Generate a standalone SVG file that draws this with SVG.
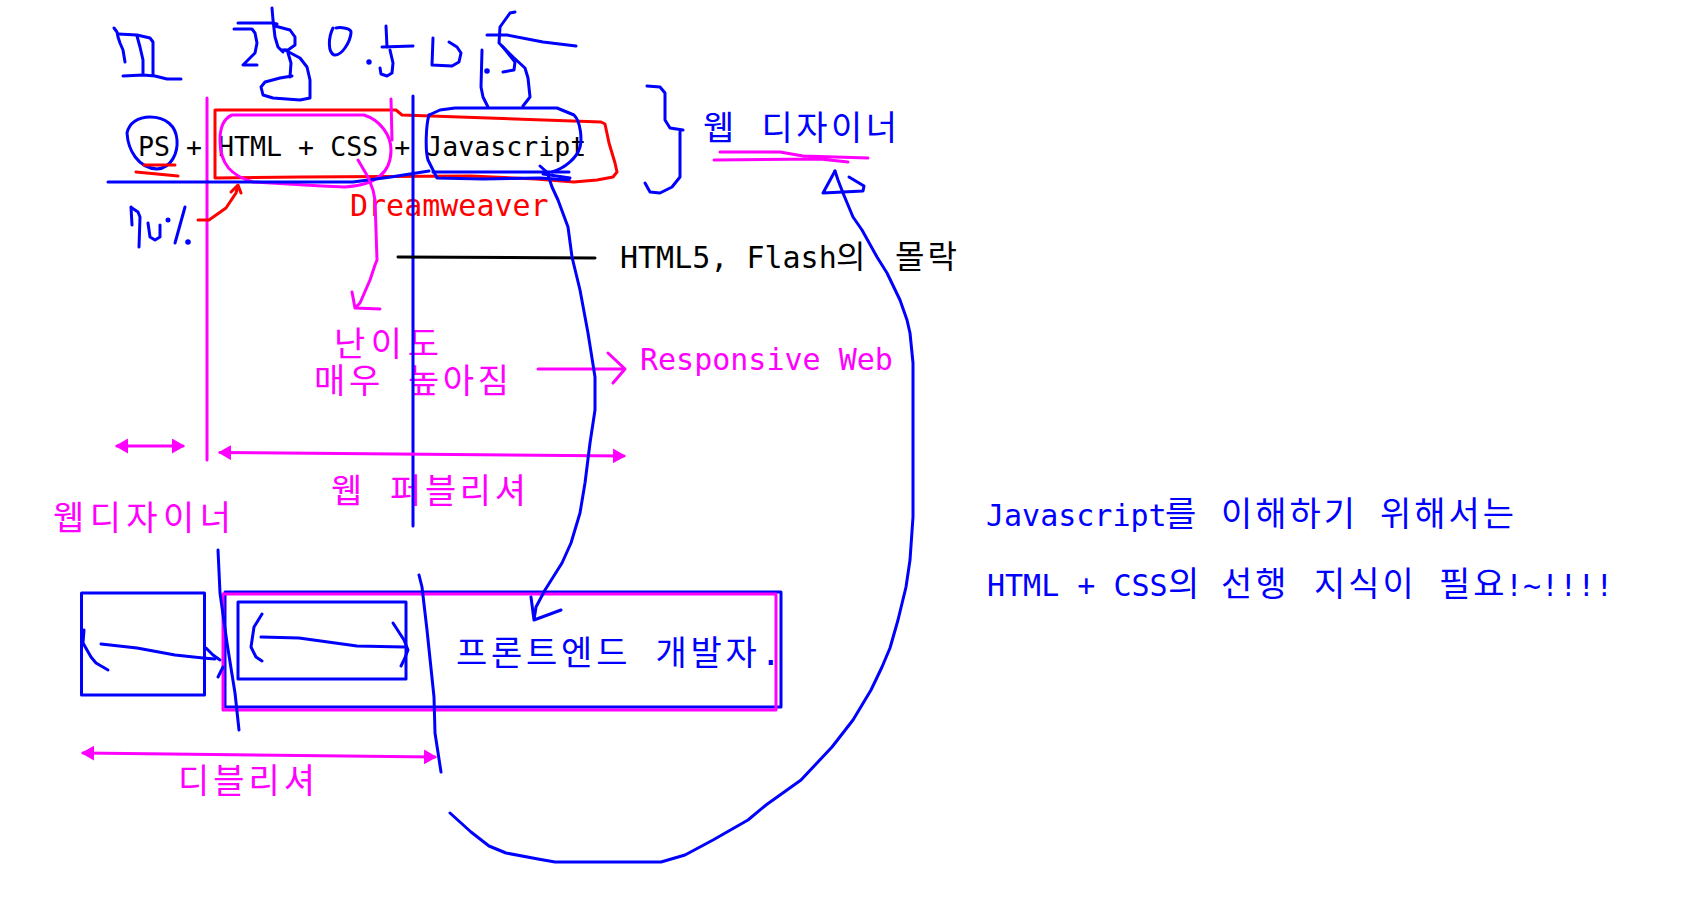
<svg xmlns="http://www.w3.org/2000/svg" width="1693" height="902" viewBox="0 0 1693 902">
<defs>
<style>
.s{fill:none;stroke-width:3;stroke-linecap:round;stroke-linejoin:round}
.b{stroke:#0000ff}.m{stroke:#ff00ff}.r{stroke:#ff0000}.k{stroke:#000000}
.t{font-family:"DejaVu Sans Mono","Noto Sans CJK KR",monospace}
.tb{fill:#0000ff}.tm{fill:#ff00ff}.tr{fill:#ff0000}.tk{fill:#000000}
.ko{letter-spacing:3px}
</style>
<marker id="ah" markerUnits="userSpaceOnUse" markerWidth="14" markerHeight="16" refX="11" refY="7.5" orient="auto-start-reverse" viewBox="0 0 14 16">
<path d="M0,0 L13,7.5 L0,15 Z" fill="#ff00ff"/>
</marker>
</defs>
<rect width="1693" height="902" fill="#ffffff"/>

<g id="title-scribble" class="s b">
<path d="M114,28 L117,32 L118,37 L120,43 L123,50 L125,62"/>
<path d="M118,34 L137,35 L150,38 L153,42 L153,75"/>
<path d="M137,36 L140,47 L143,60 L143,73"/>
<path d="M123,76 L143,75 L155,76 L167,79 L181,79"/>
<path d="M238,23 L272,23 L277,24"/>
<path d="M234,29 L252,29 L255,33 L257,43 L255,53 L248,60 L243,65 L257,65"/>
<path d="M272,8 L273,20 L275,37 L278,47 L283,52"/>
<path d="M275,26 L290,30 L295,37 L295,45 L288,50 L282,50"/>
<path d="M285,50 L300,58 L307,67 L310,80 L310,98 L300,100 L273,98 L263,95 L261,87 L265,82 L280,78 L292,76"/>
<path d="M288,53 L291,63 L290,77"/>
<path d="M333,28 C328,38 328,52 334,55 C342,56 350,42 351,33 C352,28 340,27 336,28"/>
<circle cx="369" cy="62" r="1.2" fill="#0000ff"/>
<path d="M386,26 L387,47"/>
<path d="M382,47 L413,46"/>
<path d="M390,50 L393,63 L392,73 L387,76 L381,74 L380,68"/>
<path d="M433,38 L432,65 L452,66 L459,62 L461,53 L457,47 L449,42"/>
<path d="M482,50 L481,87 L483,97 L488,107"/>
<circle cx="487" cy="71" r="1.3" fill="#0000ff"/>
<path d="M487,35 L507,35 L543,42 L576,46"/>
<path d="M515,12 L510,13 L500,27 L499,43 L503,47 L515,62 L514,70 L503,72"/>
<path d="M502,46 L513,57 L525,68 L528,78 L530,97 L523,106"/>
</g>

<g id="formula">
<text class="t tk" x="138" y="156" font-size="26.6">PS + HTML + CSS + Javascript</text>
<path class="s r" d="M215,178 L215,110 L396,110 L402,115 L601,122 L605,124 L609,143 L615,163 L617,172 L613,177 L597,180 L574,182 L536,179 L470,176 L300,177 Z"/>
<path class="s b" d="M127,133 C128,150 138,168 157,169 C172,168 178,152 177,140 C176,126 166,117 150,117 C138,117 129,123 127,133 Z"/>
<path class="s r" d="M144,165 L175,165 M136,172 L178,176"/>
<path class="s m" d="M232,115 L364,115 C380,120 391,135 391,150 C391,170 380,185 345,187 L322,186 L253,182 C232,176 220,165 220,140 C220,125 225,118 232,115 Z"/>
<path class="s m" d="M391,99 L392,140"/>
<path class="s b" d="M429,115 C426,125 425,150 428,160 L437,178 L483,179 L540,178 L569,180"/>
<path class="s b" d="M429,115 L440,110 L455,108 L557,108 L574,115 C581,122 582,140 580,147 C577,158 565,168 552,172"/>
<path class="s b" d="M540,166 L549,174 M543,174 L570,178"/>
</g>

<g id="dreamweaver">
<text class="t tr" x="350" y="216" font-size="30">Dreamweaver</text>
</g>

<g id="percent-70" class="s b">
<path d="M131,207 L132,225"/>
<path d="M132,208 L138,212 L140,217 L139,247"/>
<path d="M148,223 L150,237 L155,240 L160,237 L160,225"/>
<circle cx="168" cy="220" r="1" fill="#0000ff"/>
<path d="M185,207 L175,243"/>
<circle cx="188" cy="242" r="1.3" fill="#0000ff"/>
</g>

<g id="web-designer-top">
<path class="s b" d="M647,86 L660,87 L665,93 L665,120 L670,128 L683,130 M680,132 L680,177 L672,187 L660,193 L650,192 L645,183"/>
<text class="t tb" x="703" y="140" font-size="34" textLength="194" lengthAdjust="spacing">웹 디자이너</text>
<path class="s m" d="M720,152 L780,152 L803,156 L868,158 M714,160 L820,159 L848,162"/>
</g>

<g id="flash-text">
<text class="t tk" x="620" y="268" font-size="30">HTML5, Flash<tspan x="836" font-size="32">의 </tspan><tspan x="895" font-size="32" class="ko">몰락</tspan></text>
</g>

<g id="difficulty">
<text class="t tm" x="334" y="356" font-size="34" textLength="105" lengthAdjust="spacing">난이도</text>
<text class="t tm" x="314" y="393" font-size="34" textLength="195" lengthAdjust="spacing">매우 높아짐</text>
</g>

<g id="responsive">
<text class="t tm" x="640" y="370" font-size="30">Responsive Web</text>
</g>

<g id="web-publisher">
<text class="t tm" x="331" y="503" font-size="34" textLength="195" lengthAdjust="spacing">웹 퍼블리셔</text>
</g>

<g id="web-designer-bottom">
<text class="t tm" x="53" y="530" font-size="34" textLength="178" lengthAdjust="spacing">웹디자이너</text>
</g>

<g id="frontend">
<rect class="s b" x="81.5" y="593" width="123" height="102"/>
<rect class="s b" x="238" y="602" width="168" height="77"/>
<rect class="s b" x="225" y="592" width="556" height="115"/>
<rect class="s m" x="223" y="594" width="553" height="116"/>
<path class="s b" d="M84,630 L83,643 L91,657 L96,663 L108,670"/>
<path class="s b" d="M101,644 L137,648 L175,655 L203,658 L215,659"/>
<path class="s b" d="M206,648 L213,655 L220,660 M218,677 L223,667"/>
<path class="s b" d="M262,614 L254,627 L251,647 L256,657 L262,661"/>
<path class="s b" d="M261,637 L299,638 L357,646 L404,647"/>
<path class="s b" d="M393,623 L404,640 L408,650 L404,660 L401,666"/>
<text class="t tb" x="456" y="665" font-size="34" textLength="325" lengthAdjust="spacing">프론트엔드 개발자.</text>
</g>

<g id="publisher-bottom">
<text class="t tm" x="178" y="793" font-size="34" textLength="137" lengthAdjust="spacing">디블리셔</text>
</g>

<g id="note">
<text class="t tb" x="986" y="526" font-size="30">Javascript<tspan x="1165" font-size="34" class="ko">를 </tspan><tspan x="1221" font-size="34" class="ko">이해하기 </tspan><tspan x="1380" font-size="34" class="ko">위해서는</tspan></text>
<text class="t tb" x="987" y="596" font-size="30">HTML + CSS<tspan x="1168" font-size="34" class="ko">의 </tspan><tspan x="1221" font-size="34" class="ko">선행 </tspan><tspan x="1314" font-size="34" class="ko">지식이 </tspan><tspan x="1439" font-size="34" class="ko">필요</tspan><tspan x="1505">!~!!!!</tspan></text>
</g>

<g id="connectors">
<path class="s m" d="M207,98 L207,460"/>
<path class="s b" d="M413,96 L413,526"/>
<path class="s b" d="M108,182 L353,182 L391,177 L429,171 M433,172 L569,172"/>
<path class="s k" d="M398,257 L595,258"/>
<path class="s r" d="M198,220 L209,220 L226,208 L236,193 L238,186 M231,192 L238,185 L241,193"/>
<path class="s m" d="M358,160 L368,177 L373,190 L375,200 L377,260 L375,265 L370,280 L360,303 L355,308 L380,309 M352,292 L355,308"/>
<path class="s m" d="M538,369 L625,369 M608,353 L625,369 L613,383"/>
<path class="s m" d="M117,446 L183,446" marker-start="url(#ah)" marker-end="url(#ah)"/>
<path class="s m" d="M220,452.5 L624,456" marker-start="url(#ah)" marker-end="url(#ah)"/>
<path class="s m" d="M83,753 L435,757" marker-start="url(#ah)" marker-end="url(#ah)"/>
<path class="s b" d="M548,175 L552,187 L558,200 L568,227 L572,257 L580,290 L588,333 L595,377 L595,410 L590,443 L585,483 L580,513 L571,543 L562,563 L545,590 L536,607 L534,620 M531,597 L534,620 L561,610"/>
<path class="s b" d="M218,550 L220,593 L227,643 L235,693 L239,730"/>
<path class="s b" d="M419,575 L422,587 L427,630 L434,697 L435,733 L441,772"/>
<path class="s b" d="M450,813 L471,832 L489,846 L506,853 L538,859 L555,862 L661,862 L685,855 L713,840 L748,820 L766,805 L801,780 L832,747 L853,720 L871,690 L882,667 L890,648 L898,620 L906,587 L910,560 L913,517 L913,363 L910,333 L907,320 L900,300 L887,273 L877,257 L862,230 L853,217 L843,193 L838,180 L835,171"/>
<path class="s b" d="M835,171 L823,193 L863,191 L864,186 L849,177"/>
</g>
</svg>
